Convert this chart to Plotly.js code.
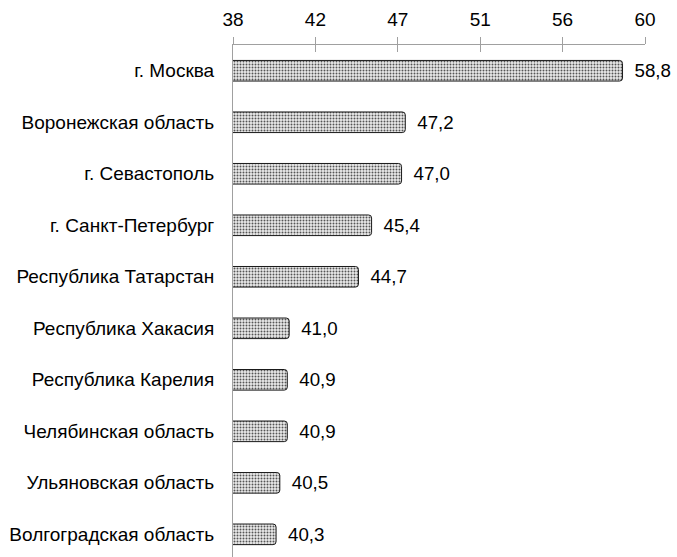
<!DOCTYPE html>
<html>
<head>
<meta charset="utf-8">
<script src="https://cdn.plot.ly/plotly-3.0.1.min.js"></script>
<style>body{margin:0;padding:0;background:#fff;} #chart{width:677px;height:557px;}</style>
</head>
<body>
<div id="chart"></div>
<script>
const regions = ["г. Москва","Воронежская область","г. Севастополь","г. Санкт-Петербург","Республика Татарстан","Республика Хакасия","Республика Карелия","Челябинская область","Ульяновская область","Волгоградская область"];
const values = [58.8, 47.2, 47.0, 45.4, 44.7, 41.0, 40.9, 40.9, 40.5, 40.3];
const tickVals = [38, 42.4, 46.8, 51.2, 55.6, 60];
const tickLabels = ["38","42","47","51","56","60"];

const labels = values.map(v => '\u00a0\u2009' + v.toFixed(1).replace('.', ','));
const font = "'Liberation Sans', Arial, sans-serif";

const trace = {
  type: 'bar',
  orientation: 'h',
  y: regions,
  x: values,
  base: 0,
  width: 0.4,
  text: labels,
  textposition: 'outside',
  cliponaxis: false,
  textfont: {family: font, size: 20, color: '#000'},
  marker: {
    color: '#e6e6e6',
    line: {color: '#1a1a1a', width: 1},
    cornerradius: 3,
    pattern: {shape: '.', fgcolor: '#555', bgcolor: '#ebebeb', size: 3, solidity: 0.33}
  },
  hoverinfo: 'none'
};

const layout = {
  width: 677, height: 557,
  margin: {l: 233, r: 32, t: 45, b: 0},
  paper_bgcolor: '#fff', plot_bgcolor: '#fff',
  showlegend: false,
  font: {family: font, size: 19, color: '#000'},
  xaxis: {
    side: 'top', range: [38, 60],
    tickvals: tickVals, ticktext: tickLabels,
    ticks: 'outside', ticklen: 7, tickcolor: '#a0a0a0', tickwidth: 1,
    showline: true, linecolor: '#a0a0a0', linewidth: 1,
    showgrid: false, zeroline: false,
    ticklabelstandoff: 3,
    tickfont: {family: font, size: 19, color: '#000'}
  },
  xaxis2: {
    overlaying: 'x', side: 'top', range: [38, 60],
    tickvals: tickVals, showticklabels: false,
    ticks: 'inside', ticklen: 7, tickcolor: '#a0a0a0', tickwidth: 1,
    showgrid: false, zeroline: false, showline: false
  },
  yaxis: {
    type: 'category', range: [9.44, -0.5],
    showline: true, linecolor: '#a0a0a0', linewidth: 1,
    ticks: '', showgrid: false, zeroline: false,
    ticklabelstandoff: 14,
    tickfont: {family: font, size: 19, color: '#000'}
  }
};

const dummy = {type: 'scatter', x: [38], y: [regions[0]], xaxis: 'x2', mode: 'markers', marker: {opacity: 0}, hoverinfo: 'none'};

Plotly.newPlot('chart', [trace, dummy], layout, {staticPlot: true});
</script>
</body>
</html>
